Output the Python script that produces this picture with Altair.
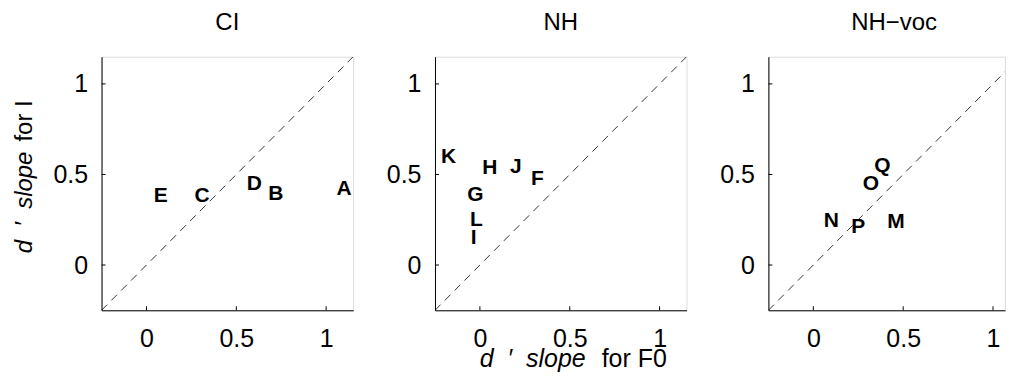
import altair as alt
import pandas as pd

FONT = "Liberation Sans, Arial, Helvetica, sans-serif"

panel_titles = ["CI", "NH", "NH\u2212voc"]

ci_labels = ["A", "B", "C", "D", "E"]
ci_x = [1.10, 0.72, 0.31, 0.60, 0.08]
ci_y = [0.42, 0.39, 0.38, 0.45, 0.38]

nh_labels = ["F", "G", "H", "I", "J", "K", "L"]
nh_x = [0.32, -0.025, 0.055, -0.035, 0.20, -0.175, -0.02]
nh_y = [0.475, 0.385, 0.535, 0.15, 0.54, 0.595, 0.25]

voc_labels = ["M", "N", "O", "P", "Q"]
voc_x = [0.46, 0.10, 0.32, 0.25, 0.385]
voc_y = [0.24, 0.245, 0.45, 0.21, 0.545]

axis_min, axis_max = -0.25, 1.15
tick_values = [0, 0.5, 1]
diag_vals = [axis_min, axis_max]

y_title_parts = ["d\u00a0\u00a0\u2032\u00a0\u00a0slope", "for I"]
x_title_parts = ["d\u00a0\u00a0\u2032\u00a0\u00a0slope", "for F0"]

W, H = 252, 254
W_LAST = 237
PX_PER_UNIT = W / (axis_max - axis_min)
axis_max_last = axis_min + W_LAST / PX_PER_UNIT   # right panel is cut at the edge


def make_axis(pad, extent=None):
    kw = dict(values=tick_values, format="~g", ticks=False, tickSize=0, grid=False,
              domainColor="black", domainWidth=1, labelFontSize=25,
              labelFont=FONT, labelColor="black", title=None, labelPadding=pad)
    if extent is not None:
        kw.update(minExtent=extent, maxExtent=extent)
    return alt.Axis(**kw)


xaxis = make_axis(16)
yaxis = make_axis(14, 52)


def panel(title, labels, xs, ys, width, xmax, first=False, middle=False):
    xsc = alt.Scale(domain=[axis_min, xmax], nice=False, zero=False)
    ysc = alt.Scale(domain=[axis_min, axis_max], nice=False, zero=False)

    def X(field):
        return alt.X(field, type="quantitative", scale=xsc, axis=xaxis)

    def Y(field):
        return alt.Y(field, type="quantitative", scale=ysc, axis=yaxis)

    df = pd.DataFrame({"label": labels, "x": xs, "y": ys})
    diag_df = pd.DataFrame({"x": diag_vals, "y": diag_vals})
    ticks_df = pd.DataFrame({"t": tick_values})

    diag = alt.Chart(diag_df).mark_line(
        color="black", strokeWidth=0.8, strokeDash=[8, 6], clip=True
    ).encode(x=X("x"), y=Y("y"))

    xt = alt.Chart(ticks_df).mark_rule(color="black", strokeWidth=1).encode(
        x=X("t"), y=alt.value(H), y2=alt.value(H - 4))
    yt = alt.Chart(ticks_df).mark_rule(color="black", strokeWidth=1).encode(
        y=Y("t"), x=alt.value(0), x2=alt.value(4))

    txt = alt.Chart(df).mark_text(
        font=FONT, fontWeight="bold", fontSize=21, color="black",
        align="center", baseline="middle"
    ).encode(x=X("x"), y=Y("y"), text="label:N")

    ttl = alt.Chart(pd.DataFrame({"s": [title]})).mark_text(
        font=FONT, fontSize=24, color="black", align="center", baseline="alphabetic"
    ).encode(text="s:N", x=alt.value(126), y=alt.value(-27))

    layers = [diag, xt, yt, txt, ttl]

    if first:
        t1 = alt.Chart(pd.DataFrame({"s": [y_title_parts[0]]})).mark_text(
            font=FONT, fontSize=24, fontStyle="italic", color="black",
            angle=270, align="right", baseline="alphabetic"
        ).encode(text="s:N", x=alt.value(-70), y=alt.value(95))
        t2 = alt.Chart(pd.DataFrame({"s": [y_title_parts[1]]})).mark_text(
            font=FONT, fontSize=24, color="black",
            angle=270, align="left", baseline="alphabetic"
        ).encode(text="s:N", x=alt.value(-70), y=alt.value(85))
        layers += [t1, t2]
    if middle:
        t1 = alt.Chart(pd.DataFrame({"s": [x_title_parts[0]]})).mark_text(
            font=FONT, fontSize=25, fontStyle="italic", color="black",
            align="right", baseline="alphabetic"
        ).encode(text="s:N", x=alt.value(151), y=alt.value(H + 57))
        t2 = alt.Chart(pd.DataFrame({"s": [x_title_parts[1]]})).mark_text(
            font=FONT, fontSize=25, color="black",
            align="left", baseline="alphabetic"
        ).encode(text="s:N", x=alt.value(167), y=alt.value(H + 57))
        layers += [t1, t2]

    return alt.layer(*layers).properties(width=width, height=H)


chart = alt.hconcat(
    panel(panel_titles[0], ci_labels, ci_x, ci_y, W, axis_max, first=True),
    panel(panel_titles[1], nh_labels, nh_x, nh_y, W, axis_max, middle=True),
    panel(panel_titles[2], voc_labels, voc_x, voc_y, W_LAST, axis_max_last),
    spacing=28,
).properties(
    padding={"left": 3.7, "top": 1.5, "right": 0, "bottom": 1}
).configure_view(stroke="transparent").configure(background="white")

chart.save("out.html", embed_options={"renderer": "svg", "actions": False})
